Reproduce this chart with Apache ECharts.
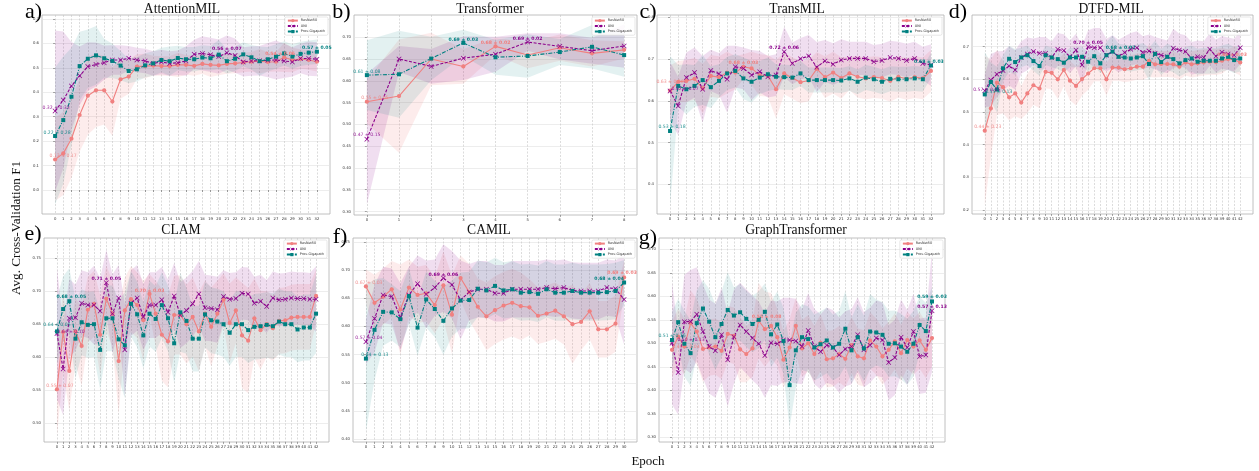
<!DOCTYPE html>
<html><head><meta charset="utf-8">
<script src="https://cdn.jsdelivr.net/npm/echarts@6/dist/echarts.min.js"></script>
<style>html,body{margin:0;padding:0;background:#fff}#c{width:1259px;height:471px}</style>
</head><body><div id="c"></div>
<script>
// ---------------- DATA ----------------
const methodNames = ['ResNet50','UNI','Prov-Gigapath'];
// a) AttentionMIL
const aResNet = [0.125,0.15,0.21,0.307,0.386,0.408,0.408,0.362,0.453,0.464,0.505,0.507,0.509,0.507,0.507,0.512,0.512,0.508,0.516,0.512,0.51,0.516,0.518,0.522,0.525,0.527,0.524,0.525,0.543,0.532,0.536,0.532,0.525];
const aResNetStd = [0.17,0.17,0.16,0.15,0.16,0.15,0.14,0.14,0.08,0.07,0.05,0.05,0.04,0.04,0.04,0.05,0.04,0.04,0.04,0.05,0.04,0.04,0.04,0.04,0.04,0.05,0.04,0.04,0.06,0.05,0.04,0.04,0.04];
const aUNI = [0.323,0.368,0.426,0.467,0.505,0.514,0.521,0.532,0.532,0.539,0.532,0.528,0.518,0.524,0.518,0.521,0.528,0.555,0.559,0.553,0.546,0.562,0.55,0.524,0.528,0.529,0.531,0.532,0.528,0.524,0.538,0.538,0.535];
const aUNIStd = [0.33,0.28,0.18,0.12,0.1,0.09,0.07,0.06,0.06,0.05,0.05,0.05,0.05,0.05,0.05,0.05,0.06,0.06,0.07,0.07,0.07,0.07,0.07,0.06,0.06,0.06,0.07,0.08,0.07,0.06,0.06,0.07,0.07];
const aProv = [0.221,0.286,0.382,0.507,0.537,0.551,0.539,0.528,0.509,0.487,0.494,0.51,0.518,0.532,0.527,0.54,0.535,0.535,0.542,0.539,0.554,0.527,0.537,0.555,0.543,0.527,0.535,0.546,0.559,0.546,0.557,0.562,0.566];
const aProvStd = [0.28,0.26,0.2,0.14,0.12,0.12,0.08,0.07,0.06,0.05,0.05,0.05,0.05,0.05,0.06,0.05,0.05,0.05,0.05,0.05,0.06,0.05,0.05,0.05,0.05,0.06,0.05,0.05,0.05,0.05,0.05,0.05,0.05];
const aYTicks = [0.0,0.1,0.2,0.3,0.4,0.5,0.6,0.7];
const aLabels = [['R',0,'0.13 ± 0.17',0],['U',0,'0.32 ± 0.33',0],['P',0,'0.22 ± 0.28',0],['U',21,'0.56 ± 0.07',1],['R',28,'0.54 ± 0.06',1],['P',32,'0.57 ± 0.05',1]];
// b) Transformer
const bResNet = [0.552,0.565,0.65,0.633,0.679,0.659,0.676,0.663,0.671];
const bResNetStd = [0.05,0.13,0.06,0.04,0.02,0.03,0.03,0.03,0.02];
const bUNI = [0.466,0.65,0.633,0.652,0.661,0.689,0.679,0.669,0.68];
const bUNIStd = [0.15,0.03,0.04,0.05,0.04,0.02,0.03,0.03,0.05];
const bProv = [0.613,0.615,0.651,0.687,0.654,0.657,0.666,0.678,0.659];
const bProvStd = [0.08,0.1,0.05,0.03,0.04,0.05,0.03,0.05,0.05];
const bYTicks = [0.30,0.35,0.40,0.45,0.50,0.55,0.60,0.65,0.70];
const bLabels = [['R',0,'0.55 ± 0.05',0],['U',0,'0.47 ± 0.15',0],['P',0,'0.61 ± 0.08',0],['P',3,'0.69 ± 0.03',1],['R',4,'0.68 ± 0.02',1],['U',5,'0.69 ± 0.02',1]];
// c) TransMIL
const cResNet = [0.625,0.646,0.648,0.653,0.63,0.66,0.657,0.668,0.668,0.682,0.678,0.662,0.66,0.628,0.666,0.655,0.645,0.649,0.677,0.657,0.668,0.655,0.666,0.658,0.654,0.657,0.655,0.648,0.658,0.653,0.657,0.654,0.672];
const cResNetStd = [0.06,0.05,0.05,0.05,0.06,0.05,0.05,0.05,0.04,0.03,0.04,0.05,0.05,0.07,0.05,0.05,0.05,0.05,0.04,0.05,0.05,0.05,0.04,0.05,0.05,0.05,0.05,0.05,0.05,0.05,0.05,0.05,0.05];
const cUNI = [0.624,0.588,0.656,0.668,0.628,0.673,0.665,0.652,0.682,0.678,0.662,0.67,0.658,0.662,0.718,0.69,0.701,0.708,0.681,0.696,0.688,0.698,0.702,0.702,0.702,0.694,0.697,0.704,0.702,0.697,0.702,0.69,0.686];
const cUNIStd = [0.07,0.07,0.06,0.06,0.08,0.05,0.05,0.08,0.05,0.05,0.06,0.05,0.05,0.05,0.06,0.05,0.05,0.05,0.06,0.05,0.05,0.05,0.04,0.04,0.04,0.04,0.04,0.04,0.04,0.04,0.04,0.04,0.05];
const cProv = [0.528,0.636,0.628,0.636,0.65,0.633,0.648,0.666,0.672,0.654,0.646,0.656,0.664,0.658,0.657,0.656,0.666,0.65,0.65,0.65,0.65,0.649,0.654,0.646,0.656,0.652,0.646,0.653,0.652,0.652,0.654,0.652,0.685];
const cProvStd = [0.18,0.05,0.06,0.05,0.06,0.05,0.04,0.04,0.04,0.05,0.05,0.04,0.04,0.03,0.03,0.03,0.03,0.03,0.03,0.03,0.03,0.03,0.03,0.03,0.03,0.03,0.03,0.03,0.03,0.03,0.03,0.03,0.03];
const cYTicks = [0.4,0.5,0.6,0.7,0.8];
const cLabels = [['R',0,'0.63 ± 0.06',0],['U',0,'0.62 ± 0.07',0],['P',0,'0.53 ± 0.18',0],['R',9,'0.68 ± 0.03',1],['U',14,'0.72 ± 0.06',1],['P',32,'0.68 ± 0.03',1]];
// d) DTFD-MIL
const dResNet = [0.443,0.511,0.59,0.576,0.545,0.557,0.529,0.557,0.582,0.572,0.623,0.62,0.6,0.629,0.596,0.58,0.601,0.618,0.634,0.634,0.6,0.636,0.636,0.631,0.634,0.639,0.639,0.657,0.646,0.647,0.647,0.646,0.639,0.652,0.646,0.649,0.652,0.654,0.653,0.657,0.662,0.661,0.652];
const dResNetStd = [0.23,0.15,0.1,0.08,0.07,0.07,0.05,0.06,0.06,0.06,0.05,0.05,0.06,0.05,0.06,0.06,0.05,0.05,0.04,0.04,0.05,0.04,0.04,0.04,0.04,0.04,0.04,0.05,0.04,0.04,0.04,0.04,0.04,0.04,0.04,0.04,0.04,0.04,0.04,0.04,0.03,0.04,0.04];
const dUNI = [0.565,0.598,0.616,0.627,0.641,0.629,0.667,0.678,0.685,0.68,0.68,0.667,0.692,0.688,0.669,0.69,0.644,0.70,0.697,0.697,0.674,0.685,0.671,0.682,0.692,0.697,0.682,0.687,0.68,0.674,0.669,0.695,0.69,0.685,0.664,0.669,0.667,0.692,0.671,0.683,0.678,0.674,0.697];
const dUNIStd = [0.05,0.08,0.07,0.06,0.06,0.06,0.05,0.05,0.04,0.05,0.05,0.05,0.05,0.05,0.05,0.05,0.06,0.05,0.06,0.06,0.05,0.05,0.05,0.05,0.05,0.05,0.05,0.05,0.05,0.05,0.05,0.06,0.05,0.05,0.05,0.05,0.05,0.05,0.05,0.05,0.05,0.05,0.05];
const dProv = [0.554,0.592,0.569,0.634,0.663,0.653,0.667,0.674,0.656,0.641,0.674,0.667,0.662,0.651,0.667,0.667,0.669,0.654,0.671,0.649,0.674,0.685,0.669,0.667,0.664,0.667,0.671,0.647,0.678,0.653,0.669,0.662,0.649,0.659,0.664,0.654,0.657,0.657,0.657,0.664,0.669,0.659,0.664];
const dProvStd = [0.13,0.06,0.07,0.04,0.04,0.04,0.03,0.03,0.03,0.03,0.03,0.03,0.03,0.03,0.03,0.03,0.03,0.03,0.03,0.03,0.04,0.05,0.04,0.04,0.04,0.04,0.04,0.05,0.04,0.04,0.04,0.04,0.04,0.04,0.04,0.04,0.04,0.04,0.04,0.04,0.04,0.04,0.04];
const dYTicks = [0.2,0.3,0.4,0.5,0.6,0.7];
const dLabels = [['R',0,'0.44 ± 0.23',0],['U',0,'0.57 ± 0.05',0],['P',0,'0.55 ± 0.13',0],['U',17,'0.70 ± 0.05',1],['P',21,'0.68 ± 0.07',1],['R',40,'0.66 ± 0.03',1]];
// e) CLAM
const eResNet = [0.551,0.638,0.579,0.639,0.617,0.672,0.681,0.634,0.689,0.666,0.594,0.671,0.688,0.679,0.656,0.696,0.666,0.634,0.624,0.664,0.664,0.65,0.661,0.639,0.666,0.646,0.666,0.687,0.652,0.671,0.633,0.625,0.659,0.641,0.65,0.644,0.655,0.656,0.66,0.661,0.661,0.661,0.693];
const eResNetStd = [0.07,0.06,0.06,0.05,0.06,0.05,0.05,0.06,0.05,0.05,0.08,0.05,0.05,0.05,0.06,0.03,0.05,0.07,0.07,0.06,0.06,0.06,0.06,0.06,0.05,0.06,0.05,0.04,0.06,0.05,0.08,0.08,0.06,0.06,0.05,0.05,0.05,0.05,0.05,0.05,0.05,0.05,0.04];
const eUNI = [0.636,0.582,0.659,0.66,0.682,0.679,0.679,0.67,0.713,0.666,0.69,0.611,0.682,0.69,0.661,0.679,0.679,0.687,0.668,0.693,0.664,0.671,0.681,0.696,0.675,0.674,0.672,0.692,0.688,0.689,0.697,0.696,0.682,0.685,0.677,0.69,0.687,0.688,0.69,0.689,0.689,0.688,0.688];
const eUNIStd = [0.10,0.07,0.06,0.05,0.05,0.05,0.06,0.05,0.05,0.06,0.05,0.07,0.05,0.05,0.05,0.05,0.05,0.05,0.05,0.05,0.05,0.05,0.05,0.05,0.05,0.05,0.05,0.04,0.04,0.04,0.04,0.04,0.04,0.04,0.04,0.04,0.04,0.04,0.04,0.04,0.04,0.04,0.05];
const eProv = [0.639,0.673,0.685,0.628,0.653,0.649,0.65,0.611,0.659,0.659,0.627,0.618,0.681,0.665,0.633,0.666,0.658,0.679,0.659,0.621,0.668,0.655,0.628,0.628,0.665,0.656,0.654,0.65,0.637,0.65,0.65,0.641,0.646,0.647,0.649,0.647,0.654,0.65,0.65,0.642,0.645,0.645,0.666];
const eProvStd = [0.05,0.05,0.05,0.06,0.05,0.05,0.05,0.06,0.05,0.05,0.06,0.08,0.05,0.05,0.05,0.05,0.05,0.05,0.05,0.06,0.06,0.05,0.05,0.05,0.05,0.05,0.05,0.05,0.05,0.05,0.05,0.05,0.05,0.05,0.05,0.05,0.05,0.05,0.05,0.05,0.05,0.05,0.06];
const eYTicks = [0.50,0.55,0.60,0.65,0.70,0.75];
const eLabels = [['R',0,'0.55 ± 0.07',0],['U',0,'0.64 ± 0.10',0],['P',0,'0.64 ± 0.05',0],['P',2,'0.68 ± 0.05',1],['U',8,'0.71 ± 0.05',1],['R',15,'0.70 ± 0.03',1]];
// f) CAMIL
const fResNet = [0.671,0.642,0.653,0.666,0.63,0.669,0.656,0.659,0.638,0.673,0.621,0.686,0.661,0.635,0.618,0.629,0.637,0.642,0.636,0.634,0.619,0.623,0.628,0.618,0.604,0.608,0.627,0.595,0.595,0.605,0.687];
const fResNetStd = [0.03,0.05,0.05,0.05,0.08,0.05,0.05,0.05,0.05,0.06,0.07,0.04,0.05,0.05,0.06,0.06,0.06,0.06,0.06,0.05,0.05,0.05,0.05,0.05,0.07,0.05,0.05,0.05,0.05,0.05,0.03];
const fUNI = [0.573,0.614,0.656,0.653,0.617,0.656,0.676,0.657,0.669,0.686,0.674,0.647,0.661,0.666,0.666,0.659,0.659,0.666,0.666,0.666,0.666,0.669,0.667,0.669,0.664,0.663,0.663,0.663,0.669,0.667,0.648];
const fUNIStd = [0.04,0.06,0.05,0.05,0.06,0.05,0.05,0.06,0.05,0.06,0.06,0.07,0.05,0.05,0.05,0.05,0.05,0.05,0.05,0.05,0.05,0.05,0.05,0.05,0.05,0.05,0.05,0.05,0.05,0.05,0.08];
const fProv = [0.543,0.594,0.626,0.625,0.613,0.654,0.598,0.648,0.631,0.61,0.632,0.646,0.647,0.667,0.664,0.672,0.664,0.666,0.66,0.661,0.658,0.666,0.66,0.66,0.663,0.66,0.66,0.66,0.661,0.663,0.678];
const fProvStd = [0.13,0.09,0.06,0.05,0.05,0.05,0.05,0.05,0.05,0.06,0.05,0.05,0.05,0.05,0.05,0.05,0.05,0.05,0.05,0.05,0.05,0.05,0.05,0.05,0.05,0.05,0.05,0.05,0.05,0.05,0.04];
const fYTicks = [0.40,0.45,0.50,0.55,0.60,0.65,0.70,0.75];
const fLabels = [['R',0,'0.67 ± 0.03',0],['U',0,'0.57 ± 0.04',0],['P',0,'0.54 ± 0.13',0],['U',9,'0.69 ± 0.06',1],['P',30,'0.68 ± 0.04',1],['R',30,'0.69 ± 0.03',1]];
// g) GraphTransformer
const gResNet = [0.486,0.514,0.493,0.543,0.525,0.488,0.491,0.493,0.484,0.52,0.516,0.487,0.477,0.489,0.548,0.53,0.537,0.513,0.465,0.491,0.537,0.489,0.5,0.477,0.501,0.466,0.468,0.477,0.467,0.496,0.472,0.468,0.506,0.493,0.472,0.486,0.504,0.479,0.507,0.493,0.506,0.486,0.511];
const gResNetStd = [0.06,0.06,0.06,0.07,0.07,0.07,0.06,0.06,0.06,0.06,0.06,0.07,0.06,0.06,0.08,0.08,0.07,0.06,0.06,0.06,0.06,0.06,0.06,0.06,0.06,0.06,0.06,0.06,0.06,0.06,0.06,0.06,0.06,0.06,0.06,0.06,0.06,0.06,0.06,0.06,0.06,0.06,0.06];
const gUNI = [0.5,0.438,0.546,0.546,0.562,0.525,0.493,0.484,0.518,0.465,0.514,0.539,0.525,0.511,0.499,0.474,0.501,0.499,0.507,0.507,0.505,0.493,0.527,0.493,0.482,0.496,0.491,0.475,0.488,0.493,0.518,0.486,0.496,0.511,0.507,0.459,0.47,0.513,0.491,0.525,0.472,0.475,0.569];
const gUNIStd = [0.13,0.09,0.1,0.11,0.1,0.1,0.1,0.1,0.1,0.1,0.1,0.09,0.09,0.09,0.09,0.09,0.09,0.09,0.09,0.09,0.09,0.08,0.08,0.08,0.08,0.08,0.08,0.08,0.08,0.08,0.08,0.08,0.08,0.08,0.08,0.08,0.08,0.08,0.08,0.08,0.08,0.08,0.13];
const gProv = [0.507,0.545,0.499,0.479,0.543,0.574,0.546,0.513,0.541,0.571,0.559,0.566,0.552,0.541,0.55,0.567,0.519,0.54,0.505,0.411,0.485,0.513,0.509,0.491,0.498,0.506,0.491,0.499,0.531,0.485,0.513,0.489,0.525,0.523,0.518,0.499,0.5,0.493,0.482,0.499,0.539,0.526,0.589];
const gProvStd = [0.06,0.05,0.07,0.07,0.07,0.06,0.07,0.07,0.07,0.08,0.06,0.06,0.06,0.06,0.06,0.06,0.07,0.07,0.07,0.09,0.08,0.07,0.07,0.07,0.07,0.07,0.07,0.07,0.08,0.07,0.07,0.07,0.08,0.07,0.07,0.07,0.07,0.07,0.07,0.07,0.06,0.06,0.03];
const gYTicks = [0.30,0.35,0.40,0.45,0.50,0.55,0.60,0.65,0.70];
const gLabels = [['R',0,'0.49 ± 0.04',0],['U',0,'0.50 ± 0.13',0],['P',0,'0.51 ± 0.16',0],['R',14,'0.55 ± 0.08',1],['P',42,'0.59 ± 0.03',1],['U',42,'0.57 ± 0.13',1]];

// ---------------- PANELS (data refs) ----------------
const PANELS = [
 {letter:'a)', title:'AttentionMIL', R:[aResNet,aResNetStd], U:[aUNI,aUNIStd], P:[aProv,aProvStd], yTicks:aYTicks, dec:1, labels:aLabels},
 {letter:'b)', title:'Transformer', R:[bResNet,bResNetStd], U:[bUNI,bUNIStd], P:[bProv,bProvStd], yTicks:bYTicks, dec:2, labels:bLabels},
 {letter:'c)', title:'TransMIL', R:[cResNet,cResNetStd], U:[cUNI,cUNIStd], P:[cProv,cProvStd], yTicks:cYTicks, dec:1, labels:cLabels},
 {letter:'d)', title:'DTFD-MIL', R:[dResNet,dResNetStd], U:[dUNI,dUNIStd], P:[dProv,dProvStd], yTicks:dYTicks, dec:1, labels:dLabels},
 {letter:'e)', title:'CLAM', R:[eResNet,eResNetStd], U:[eUNI,eUNIStd], P:[eProv,eProvStd], yTicks:eYTicks, dec:2, labels:eLabels},
 {letter:'f)', title:'CAMIL', R:[fResNet,fResNetStd], U:[fUNI,fUNIStd], P:[fProv,fProvStd], yTicks:fYTicks, dec:2, labels:fLabels},
 {letter:'g)', title:'GraphTransformer', R:[gResNet,gResNetStd], U:[gUNI,gUNIStd], P:[gProv,gProvStd], yTicks:gYTicks, dec:2, labels:gLabels}
];

// ---------------- LAYOUT / STYLE ----------------
const W = 1259;
const LAYOUT = [
 {left:42, top:15, w:288, h:199, ymin:-0.098, ymax:0.716, lx:33.5, ly:12.5, tx:182, ty:9, offs:[[8,3.5],[1,3.5],[2,3.5],[0,3.5],[-4,3.5],[0,3.5]]},
 {left:354, top:15, w:283, h:200, ymin:0.292, ymax:0.751, lx:341.5, ly:12, tx:490, ty:9, offs:[[8,3.5],[0,4],[0,3.5],[0,3.5],[0,3.5],[0,3.5]]},
 {left:657, top:15, w:287, h:199, ymin:0.329, ymax:0.806, lx:648, ly:12, tx:797, ty:9, offs:[[0,9],[15,2],[2,4],[0,3.5],[0,3.5],[-2,4]]},
 {left:972, top:15, w:281, h:199, ymin:0.188, ymax:0.797, lx:958, ly:12, tx:1111, ty:9, offs:[[3,4],[2,1],[14,3],[0,3.5],[8,3.5],[4,4]]},
 {left:44, top:238, w:285, h:204, ymin:0.471, ymax:0.781, lx:33, ly:234, tx:181, ty:230, offs:[[3,4],[14,1.5],[0,7],[2,4],[0,3.5],[0,3.5]]},
 {left:353, top:238, w:284, h:204, ymin:0.395, ymax:0.757, lx:340, ly:237, tx:489, ty:230, offs:[[3,4],[3,4],[9,3.5],[0,3.5],[-15,3.5],[-2,4.5]]},
 {left:659, top:238, w:286, h:204, ymin:0.29, ymax:0.724, lx:648, ly:238, tx:796, ty:230, offs:[[14,3],[19,3],[0,4],[8,3.5],[0,5],[0,4]]}
];
const KEYS = ['R','U','P'];
const NAME = {R:'ResNet50', U:'UNI', P:'Prov-Gigapath'};
const COLOR = {R:'#F08080', U:'#8B008B', P:'#008080'};
const BAND_FILL = {R:'rgba(240,128,128,0.15)', U:'rgba(139,0,139,0.13)', P:'rgba(0,128,128,0.11)'};
const XPATH = 'path://M1,0L5,4L9,0L10,1L6,5L10,9L9,10L5,6L1,10L0,9L4,5L0,1Z';
const SYMBOL = {R:'circle', U:XPATH, P:'rect'};
const SYMSIZE = {R:4.2, U:5, P:4};
const DASH = {R:'solid', U:[3,1.6], P:[4,1.5,1,1.5]};
const SANS = 'DejaVu Sans';
const SERIF = '"Liberation Serif", "Times New Roman", serif';

const option = {animation:false, backgroundColor:'#fff', grid:[], xAxis:[], yAxis:[], series:[], legend:[], graphic:[]};

PANELS.forEach((P, i) => {
  const L = LAYOUT[i];
  const n = P.R[0].length;
  const epochs = P.R[0].map((_, k) => k);
  const m = (n - 1) * 0.05;
  option.grid.push({left:L.left, top:L.top, width:L.w, height:L.h, show:true, borderColor:'#b0b0b0', borderWidth:0.8, backgroundColor:'#fff'});
  option.xAxis.push({type:'value', gridIndex:i, min:-m, max:n-1+m,
    axisLine:{show:false},
    axisTick:{show:true, length:2, customValues:epochs, lineStyle:{color:'#555', width:0.5}},
    axisLabel:{customValues:epochs, fontSize:3.8, color:'#333', margin:3, fontFamily:SANS, formatter:v=>String(Math.round(v))},
    splitLine:{show:true, lineStyle:{color:'#c4c4c4', width:0.6, type:[2,1.5]}}});
  option.yAxis.push({type:'value', gridIndex:i, min:L.ymin, max:L.ymax,
    axisLine:{show:false},
    axisTick:{show:true, length:2, customValues:P.yTicks, lineStyle:{color:'#555', width:0.5}},
    axisLabel:{customValues:P.yTicks, fontSize:3.8, color:'#333', margin:3, fontFamily:SANS, formatter:v=>v.toFixed(P.dec)},
    splitLine:{show:true, lineStyle:{color:'#e0e0e0', width:0.6}}});
  // std bands (custom polygons through the axis scales)
  KEYS.forEach(k => {
    const [mean, std] = P[k];
    option.series.push({type:'custom', name:'band', xAxisIndex:i, yAxisIndex:i, silent:true, z:1, clip:true,
      data:[[0, mean[0]]],
      renderItem:(params, api) => {
        const top = epochs.map(e => api.coord([e, mean[e] + std[e]]));
        const bot = epochs.slice().reverse().map(e => api.coord([e, mean[e] - std[e]]));
        return {type:'polygon', shape:{points: top.concat(bot)}, style:{fill:BAND_FILL[k], stroke:null}};
      }});
  });
  // mean lines
  KEYS.forEach(k => {
    const [mean, std] = P[k];
    const lbls = [];
    P.labels.forEach((lb, j) => {
      if (lb[0] !== k) return;
      const off = L.offs[j];
      lbls.push({coord:[lb[1], mean[lb[1]]], value:lb[2],
        label:{show:true, position:'inside', offset:[off[0], -off[1]], formatter:lb[2],
          color:COLOR[k], opacity: lb[3] ? 1 : 0.85, fontSize:4.6, fontWeight: lb[3] ? 'bold' : 'normal', fontFamily:SANS}});
    });
    option.series.push({type:'line', name:NAME[k], xAxisIndex:i, yAxisIndex:i,
      data: epochs.map(e => [e, mean[e]]),
      symbol:SYMBOL[k], symbolSize:SYMSIZE[k], showSymbol:true,
      lineStyle:{color:COLOR[k], width:1.1, type:DASH[k]},
      itemStyle:{color:COLOR[k]}, z:3, emphasis:{disabled:true},
      markPoint:{symbol:'circle', symbolSize:1, itemStyle:{color:'rgba(0,0,0,0)'}, silent:true, data:lbls, z:5}});
  });
  option.legend.push({data:methodNames, orient:'vertical', right: W - (L.left + L.w) + 2, top: L.top + 2,
    itemWidth:10, itemHeight:4, itemGap:2.3, padding:[2,3,2,2], selectedMode:false,
    textStyle:{fontSize:3.4, color:'#333', fontFamily:SANS, padding:[0,0,0,-2]},
    borderColor:'#d6d6d6', borderWidth:0.6, borderRadius:1.5, backgroundColor:'rgba(255,255,255,0.85)'});
  option.graphic.push({type:'text', x:L.tx, y:L.ty, style:{text:P.title, font:'13.6px ' + SERIF, fill:'#111', align:'center', verticalAlign:'middle'}});
  option.graphic.push({type:'text', x:L.lx, y:L.ly, style:{text:P.letter, font:'22px ' + SERIF, fill:'#000', align:'center', verticalAlign:'middle'}});
});
option.graphic.push({type:'text', x:17, y:228, rotation:Math.PI/2, style:{text:'Avg. Cross-Validation F1', font:'13.2px ' + SERIF, fill:'#111', align:'center', verticalAlign:'middle'}});
option.graphic.push({type:'text', x:648, y:462, style:{text:'Epoch', font:'13px ' + SERIF, fill:'#111', align:'center', verticalAlign:'middle'}});

const chart = echarts.init(document.getElementById('c'), null, {renderer:'canvas'});
chart.setOption(option);
</script>
</body></html>
